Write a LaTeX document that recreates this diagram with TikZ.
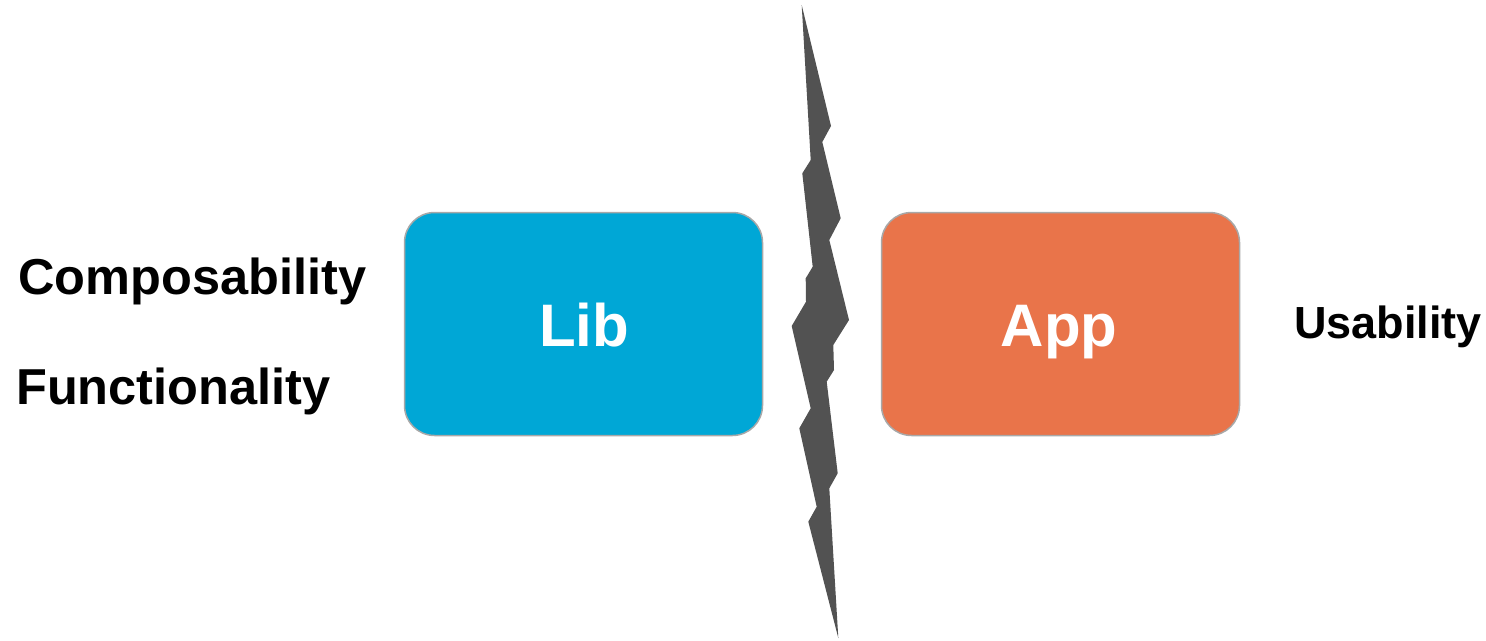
\documentclass[tikz,border=0pt]{standalone}
\usepackage{fontspec}
\setmainfont{Liberation Sans}
\definecolor{libblue}{RGB}{0,167,214}
\definecolor{apporange}{RGB}{233,116,74}
\definecolor{boltgray}{RGB}{82,82,82}
\definecolor{rimgray}{RGB}{168,168,168}
\begin{document}
\begin{tikzpicture}[x=1pt,y=-1pt,
  box/.style={draw=rimgray,line width=1.5pt,rounded corners=30pt,minimum width=358pt,minimum height=223pt,inner sep=0pt},
  boxtext/.style={anchor=base,text=white,font=\fontsize{60}{66}\selectfont\bfseries,inner sep=0pt},
  side/.style={anchor=base west,text=black,font=\fontsize{50.5}{60}\selectfont\bfseries,inner sep=0pt},
  sideR/.style={anchor=base west,text=black,font=\fontsize{45}{54}\selectfont\bfseries,inner sep=0pt}]
\useasboundingbox (0,0) rectangle (1486,640);
% lightning bolt
\fill[boltgray] (801.7,5) -- (831,126) -- (822.3,142) -- (840.7,218.3) -- (829.3,240)
  -- (849,320) -- (833.3,345) -- (834,370) -- (826.7,381.7) -- (837.7,473.3)
  -- (829.3,488.3) -- (838.3,638) -- (808.3,521.7) -- (816.7,506.7) -- (799.3,428.3)
  -- (810.7,408.3) -- (791.7,326) -- (806,301.7) -- (805.7,278.3) -- (812.7,266.7)
  -- (802.3,173.3) -- (810.7,160) -- cycle;
% boxes
\node[box,fill=libblue] (lib) at (583.5,324) {};
\node[box,fill=apporange] (app) at (1060.5,324) {};
\node[boxtext] (libtext) at (584,346) {Lib};
\node[boxtext] (apptext) at (1059,346) {App};
% side labels
\node[side] (comp) at (18,294) {Composability};
\node[side] (func) at (16,404) {Functionality};
\node[sideR] (usab) at (1294,338) {Usability};
\end{tikzpicture}
\end{document}
